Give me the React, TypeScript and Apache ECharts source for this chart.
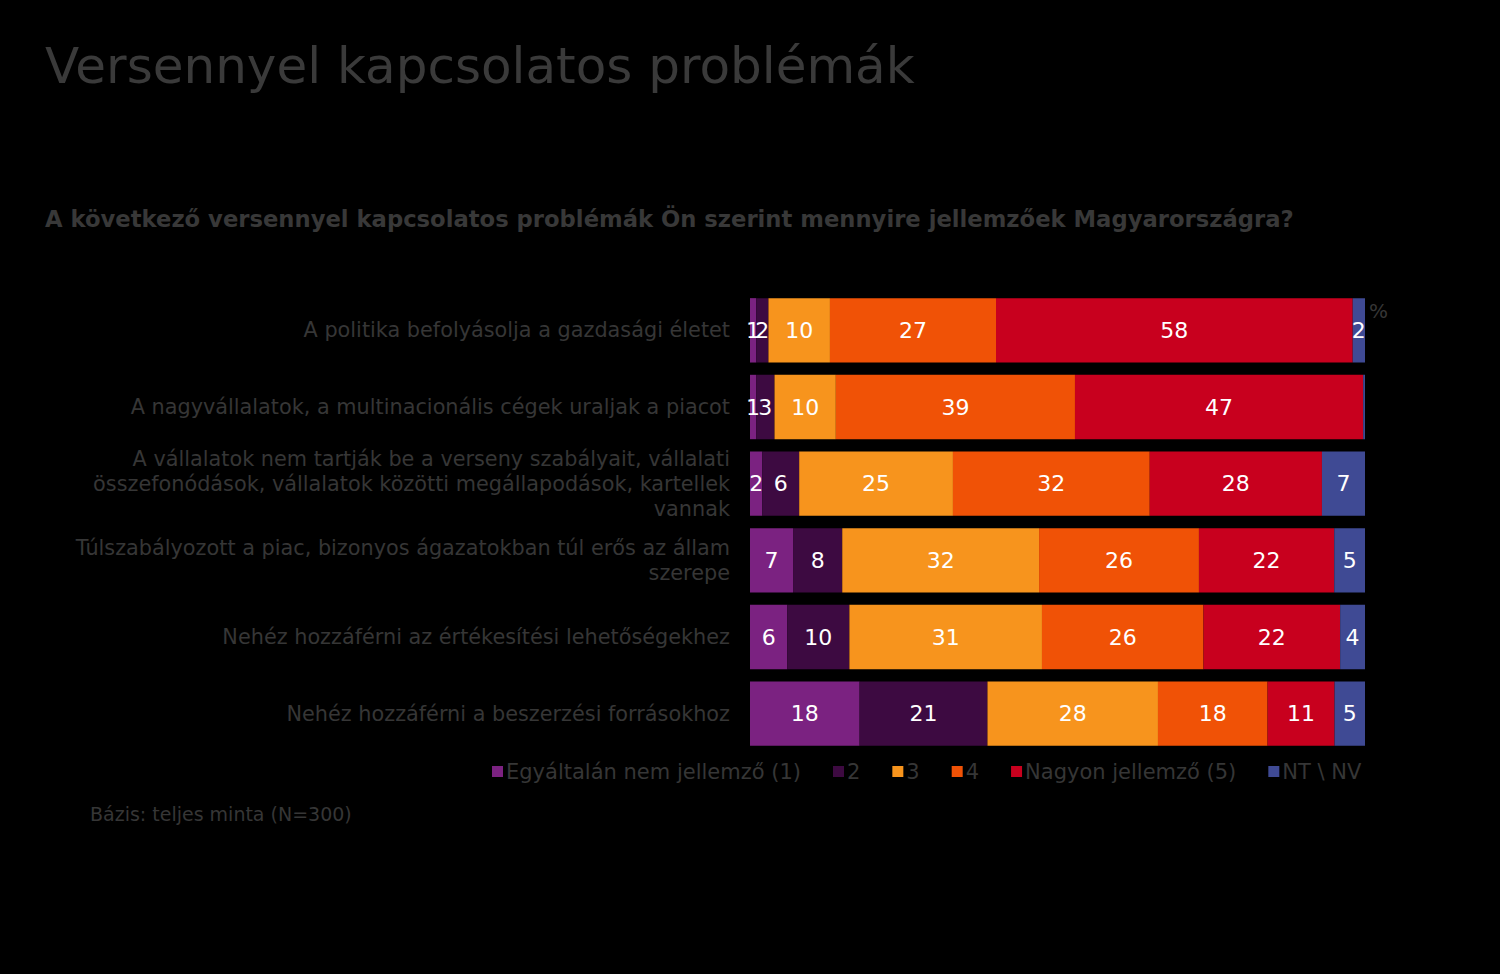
import React, { useEffect, useRef } from "react";
import * as echarts from "echarts";

const categories = [
  "A politika befolyásolja a gazdasági életet",
  "A nagyvállalatok, a multinacionális cégek uraljak a piacot",
  "A vállalatok nem tartják be a verseny szabályait, vállalati\nösszefonódások, vállalatok közötti megállapodások, kartellek\nvannak",
  "Túlszabályozott a piac, bizonyos ágazatokban túl erős az állam\nszerepe",
  "Nehéz hozzáférni az értékesítési lehetőségekhez",
  "Nehéz hozzáférni a beszerzési forrásokhoz",
];

const seriesNames = [
  "Egyáltalán nem jellemző (1)",
  "2",
  "3",
  "4",
  "Nagyon jellemző (5)",
  "NT \\ NV",
];

const s1 = [1, 1, 2, 7, 6, 18];
const s2 = [2, 3, 6, 8, 10, 21];
const s3 = [10, 10, 25, 32, 31, 28];
const s4 = [27, 39, 32, 26, 26, 18];
const s5 = [58, 47, 28, 22, 22, 11];
const s6 = [2, 0.3, 7, 5, 4, 5];

const colors = ["#7B2281", "#3D0A41", "#F7941D", "#F05206", "#C8001E", "#3F4A94"];

const FONT = "DejaVu Sans, Verdana, sans-serif";
const TEXT = "#363636";

export default function App() {
  const ref = useRef<HTMLDivElement>(null);
  useEffect(() => {
    document.body.style.margin = "0";
    document.body.style.background = "#000";
    const chart = echarts.init(ref.current!, undefined, { renderer: "svg" });
    const all = [s1, s2, s3, s4, s5, s6];
    const sums = categories.map((_, i) => all.reduce((a, s) => a + s[i], 0));
    const series = all.map((arr, k) => ({
      name: seriesNames[k],
      type: "bar",
      stack: "total",
      barCategoryGap: "16%",
      itemStyle: { color: colors[k] },
      label: {
        show: true,
        position: "inside",
        color: "#fff",
        fontSize: 22,
        fontFamily: FONT,
        formatter: (p: any) => {
          const raw = arr[p.dataIndex];
          return raw >= 0.5 ? String(Math.round(raw)) : "";
        },
      },
      labelLayout: { hideOverlap: false },
      data: arr.map((v, i) => (v / sums[i]) * 100),
    }));
    chart.setOption({
      animation: false,
      backgroundColor: "#000",
      title: [
        {
          text: "Versennyel kapcsolatos problémák",
          left: 40,
          top: 36,
          textStyle: { color: "#3a3a3a", fontSize: 50, fontWeight: "normal", fontFamily: FONT },
        },
        {
          text: "A következő versennyel kapcsolatos problémák Ön szerint mennyire jellemzőek Magyarországra?",
          left: 40,
          top: 202,
          textStyle: { color: "#383838", fontSize: 22.7, fontWeight: "bold", fontFamily: FONT },
        },
      ],
      grid: { left: 750, top: 292, width: 615, height: 460, containLabel: false },
      xAxis: { type: "value", min: 0, max: 100, show: false },
      yAxis: {
        type: "category",
        inverse: true,
        data: categories,
        axisLine: { show: false },
        axisTick: { show: false },
        axisLabel: {
          color: TEXT,
          fontSize: 20.8,
          fontFamily: FONT,
          margin: 20,
          align: "right",
          lineHeight: 25,
        },
      },
      legend: {
        left: 487,
        top: 756,
        itemWidth: 11,
        itemHeight: 11,
        itemGap: 32,
        icon: "rect",
        textStyle: { color: TEXT, fontSize: 21, fontFamily: FONT, padding: [0, 0, 0, -2] },
        data: seriesNames,
      },
      graphic: [
        {
          type: "text",
          left: 1369,
          top: 301,
          style: { text: "%", fill: TEXT, fontSize: 20, fontFamily: FONT },
        },
        {
          type: "text",
          left: 90,
          top: 804,
          style: { text: "Bázis: teljes minta (N=300)", fill: TEXT, fontSize: 19, fontFamily: FONT },
        },
      ],
      series,
    });
    return () => chart.dispose();
  }, []);
  return <div ref={ref} style={{ width: 1500, height: 974 }} />;
}
